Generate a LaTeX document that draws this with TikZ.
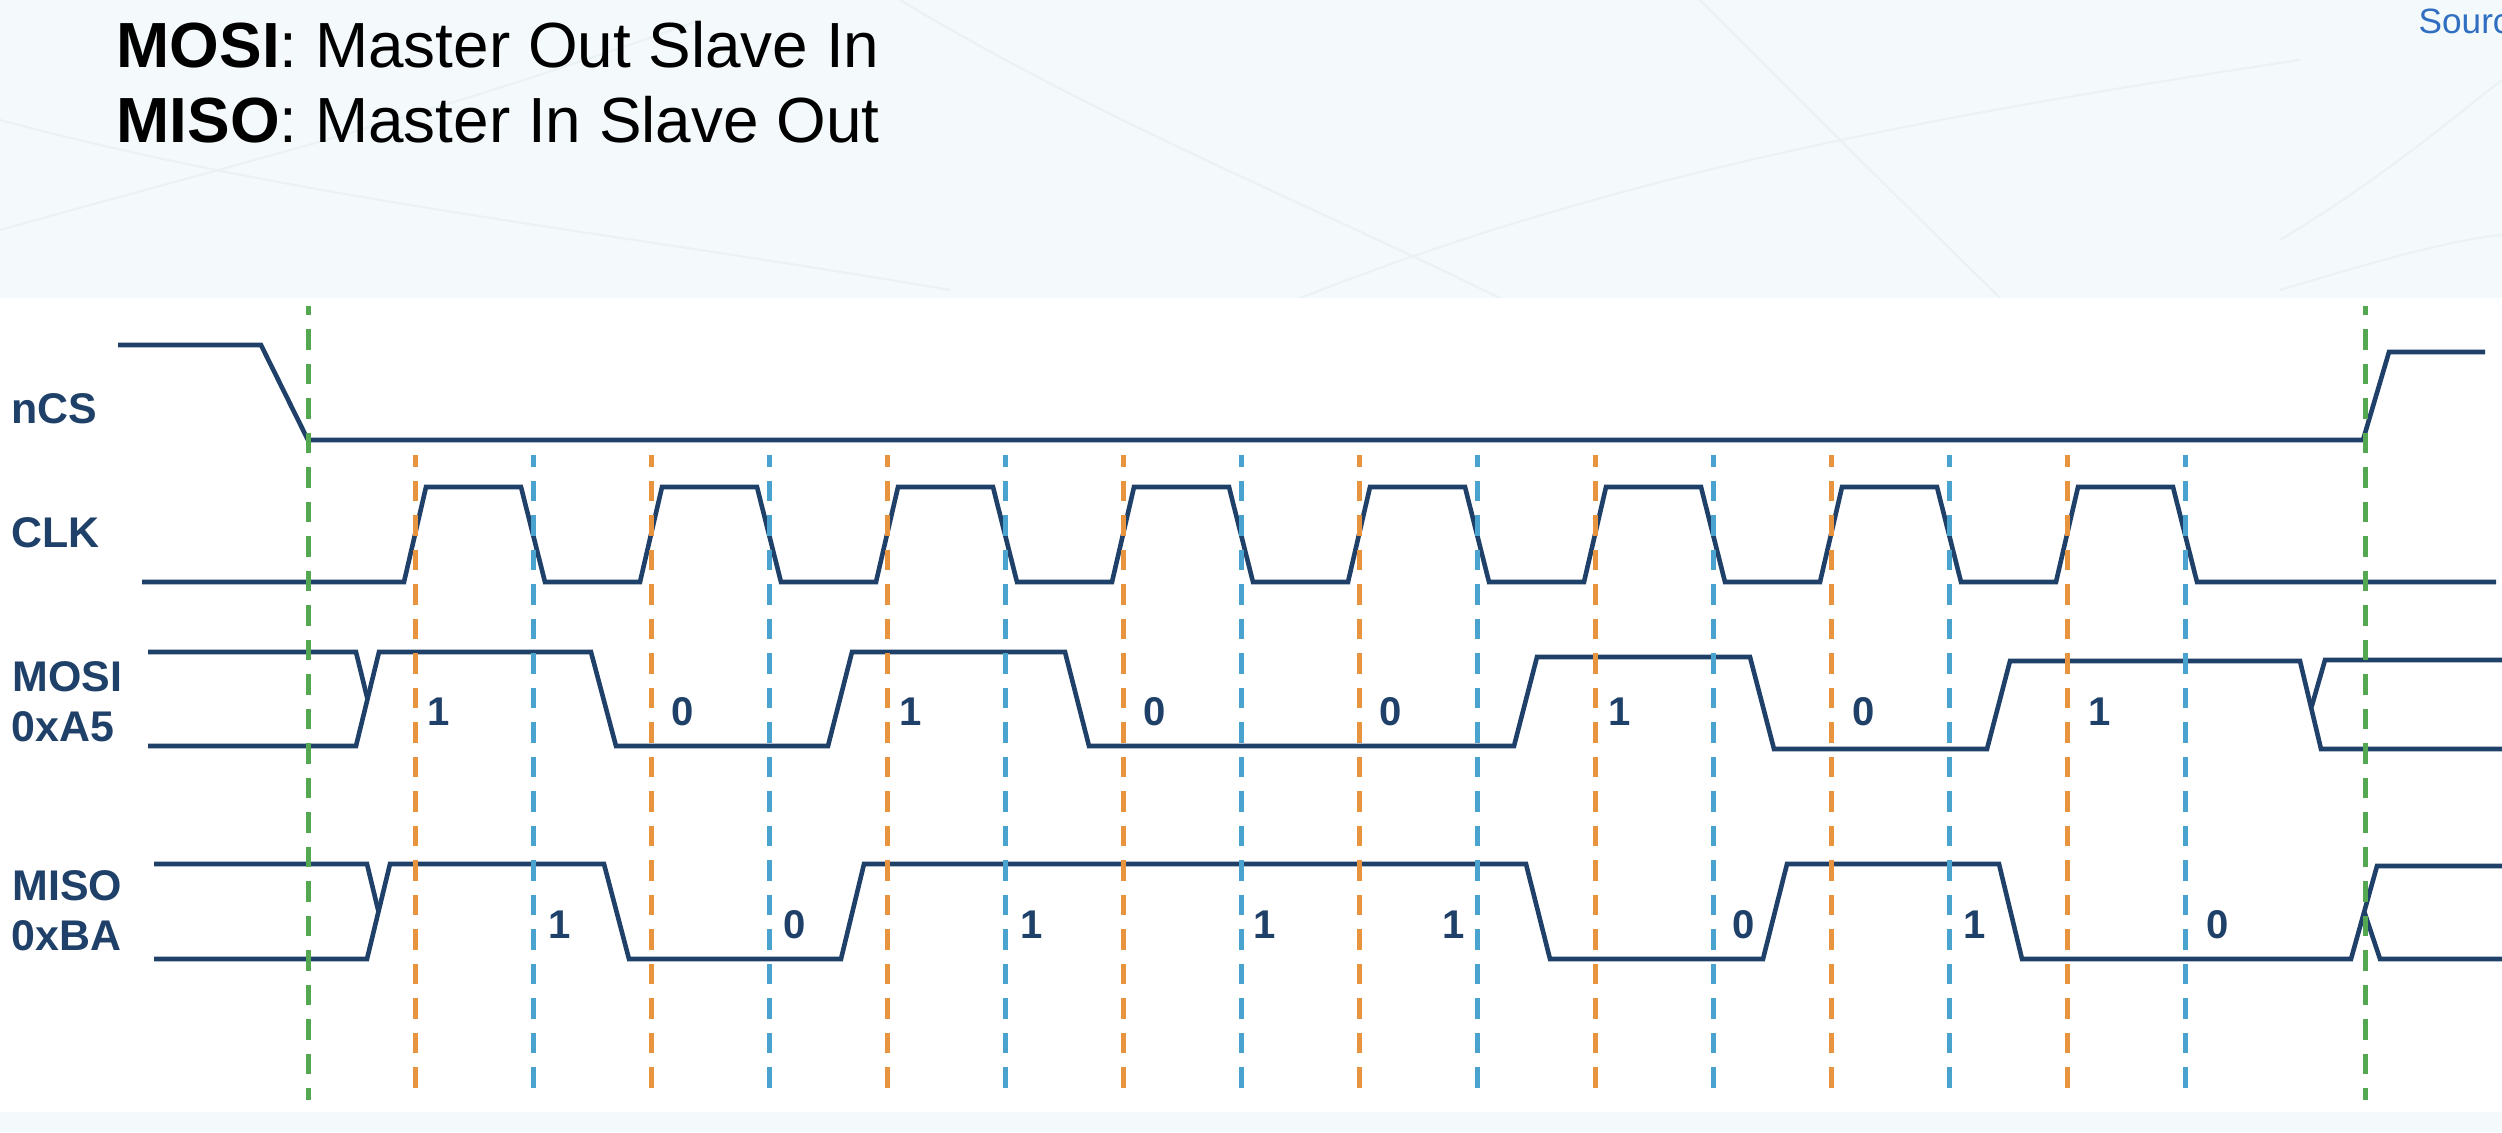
\documentclass[tikz,border=0pt]{standalone}
\usepackage{fontspec}
\setmainfont{Liberation Sans}
\definecolor{navy}{HTML}{1F4068}
\definecolor{sigGreen}{HTML}{55A852}
\definecolor{sigOrange}{HTML}{E8943F}
\definecolor{sigBlue}{HTML}{4AA3CE}
\definecolor{srcBlue}{HTML}{2F6EC0}
\definecolor{bgTint}{HTML}{F4F9FB}
\definecolor{bgLine}{HTML}{EBF2F4}
\begin{document}
\begin{tikzpicture}[x=0.01cm,y=-0.01cm,
  wave/.style={draw=navy,line width=0.046cm},
  guide/.style={line width=0.05cm,dash pattern=on 0.205cm off 0.14cm},
  sigLabel/.style={text=navy,font=\fontsize{12.2pt}{14pt}\selectfont\bfseries,inner sep=0pt,anchor=base west},
  bitLabel/.style={text=navy,font=\fontsize{11.4pt}{13pt}\selectfont\bfseries,inner sep=0pt},
  titleText/.style={font=\fontsize{18.15pt}{21pt}\selectfont,inner sep=0pt,anchor=base west},
  bgStroke/.style={draw=bgLine,line width=0.02cm}]

\useasboundingbox (0,0) rectangle (2502,1132);
\fill[bgTint] (0,0) rectangle (2502,1132);
% faint background texture
\draw[bgStroke] (0,230) .. controls (250,160) and (420,120) .. (700,20);
\draw[bgStroke] (0,120) .. controls (300,200) and (600,230) .. (950,290);
\draw[bgStroke] (900,0) .. controls (1100,120) and (1300,200) .. (1500,298);
\draw[bgStroke] (1300,298) .. controls (1600,180) and (1900,120) .. (2300,60);
\draw[bgStroke] (2280,240) .. controls (2380,180) and (2450,120) .. (2502,80);
\draw[bgStroke] (2280,290) .. controls (2380,260) and (2450,240) .. (2502,235);
\draw[bgStroke] (1700,0) .. controls (1800,100) and (1900,200) .. (2000,298);
\fill[white] (0,298) rectangle (2502,1112);

% title
\node[titleText] (t1) at (116,67) {\textbf{MOSI}: Master Out Slave In};
\node[titleText] (t2) at (116,142) {\textbf{MISO}: Master In Slave Out};
\begin{scope}
  \clip (0,0) rectangle (2502,1132);
  \node[text=srcBlue,font=\fontsize{10pt}{12pt}\selectfont,inner sep=0pt,anchor=base west] (src) at (2418,33) {Source};
\end{scope}

% signal labels
\node[sigLabel] (lcs) at (11,423) {nCS};
\node[sigLabel] (lclk) at (11,547) {CLK};
\node[sigLabel] (lmosi) at (12,691) {MOSI};
\node[sigLabel] (lmosiv) at (11,741) {0xA5};
\node[sigLabel] (lmiso) at (12,900) {MISO};
\node[sigLabel] (lmisov) at (11,950) {0xBA};

% nCS
\draw[wave] (118,345) -- (261,345) -- (308,440) -- (2363,440) -- (2389,352) -- (2485,352);

% CLK
\draw[wave] (142,582) foreach \k in {0,...,7} {
  -- ({404+236*\k},582) -- ({426+236*\k},487) -- ({521+236*\k},487) -- ({545+236*\k},582) } -- (2496,582);

% MOSI
\draw[wave] (148,652) -- (356,652) -- (367.5,699);
\draw[wave] (148,746) -- (356,746) -- (379,652) -- (591,652) -- (616,746) -- (828,746)
  -- (852,652) -- (1065,652) -- (1089,746) -- (1514,746) -- (1537,657) -- (1750,657)
  -- (1774,749) -- (1987,749) -- (2010,661) -- (2300,661) -- (2321,749) -- (2502,749);
\draw[wave] (2311.5,707) -- (2325,660) -- (2502,660);

% MISO
\draw[wave] (154,864) -- (367,864) -- (378.5,911.5);
\draw[wave] (154,959) -- (367,959) -- (390,864) -- (604,864) -- (629,959) -- (841,959)
  -- (864,864) -- (1526,864) -- (1550,959) -- (1763,959) -- (1787,864) -- (1999,864)
  -- (2022,959) -- (2351,959) -- (2377,866) -- (2502,866);
\draw[wave] (2364.5,912.5) -- (2380,959) -- (2502,959);

% guide lines
\draw[guide,sigGreen,dash phase=0.115cm] (308,306) -- (308,1100);
\draw[guide,sigGreen,dash phase=0.115cm] (2365,306) -- (2365,1100);
\foreach \k in {0,...,7} {
  \draw[guide,sigOrange,dash phase=0.09cm] ({415+236*\k},455) -- ({415+236*\k},1100);
  \draw[guide,sigBlue,dash phase=0.09cm] ({533+236*\k},455) -- ({533+236*\k},1100);
}

% MOSI bits
\foreach \x/\b [count=\i] in {439/1,683/0,911/1,1155/0,1391/0,1620/1,1864/0,2100/1} {
  \node[bitLabel] (mo\i) at (\x,712) {\b};
}
% MISO bits
\foreach \x/\b [count=\i] in {560/1,795/0,1032/1,1265/1,1454/1,1744/0,1975/1,2218/0} {
  \node[bitLabel] (mi\i) at (\x,925) {\b};
}
\end{tikzpicture}
\end{document}
